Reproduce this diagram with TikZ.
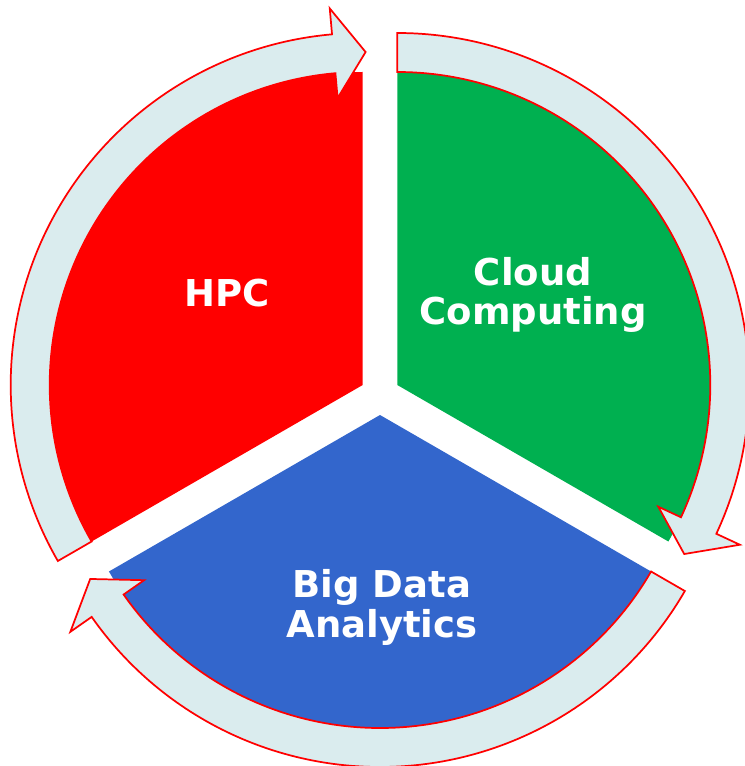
\documentclass[tikz,border=0pt]{standalone}
\usepackage{fontspec}
\setsansfont{DejaVu Sans}
\definecolor{hpcred}{RGB}{255,0,0}
\definecolor{cloudgreen}{RGB}{0,176,80}
\definecolor{datablue}{RGB}{51,102,204}
\definecolor{ringfill}{RGB}{218,236,238}
\tikzset{
  cyclearrow/.style={draw=red, fill=ringfill, line width=1.3pt, line join=miter},
  segtext/.style={text=white, font=\sffamily\bfseries\fontsize{27.75}{29.6}\selectfont, align=center, inner sep=0pt}
}

\begin{document}
\begin{tikzpicture}[x=0.75pt,y=0.75pt,yscale=-1,xscale=1]
\useasboundingbox (0,0) rectangle (744,766); %set diagram to 744 x 766

%Shape: Sector [id:hpc]
\fill [hpcred, shift={(362.7,385)}] (0,0) -- (150:313) arc [start angle=150, end angle=270, radius=313] -- cycle ;
%Shape: Sector [id:cloud]
\fill [cloudgreen, shift={(397.3,385)}] (0,0) -- (270:313) arc [start angle=270, end angle=390, radius=313] -- cycle ;
%Shape: Sector [id:bigdata]
\fill [datablue, shift={(380,415)}] (0,0) -- (30:313) arc [start angle=30, end angle=150, radius=313] -- cycle ;

%Shape: Circular Arrow [id:hpc to cloud]
\draw [cyclearrow, shift={(362.7,385)}] (150:313) arc [start angle=150, end angle=265, radius=313] -- (265:288) -- (270.5:333) -- (265:378) -- (265:352) arc [start angle=265, end angle=150, radius=352] -- cycle ;
%Shape: Circular Arrow [id:cloud to bigdata]
\draw [cyclearrow, shift={(397.3,385)}] (270:313) arc [start angle=270, end angle=385, radius=313] -- (385:288) -- (390.5:333) -- (385:378) -- (385:352) arc [start angle=385, end angle=270, radius=352] -- cycle ;
%Shape: Circular Arrow [id:bigdata to hpc]
\draw [cyclearrow, shift={(380,415)}] (30:313) arc [start angle=30, end angle=145, radius=313] -- (145:288) -- (150.5:333) -- (145:378) -- (145:352) arc [start angle=145, end angle=30, radius=352] -- cycle ;

% Text Node
\node [segtext] (hpc) at (227,293.5) {HPC};
% Text Node
\node [segtext] (cloud) at (533,295) {Cloud\\Computing};
% Text Node
\node [segtext] (bigdata) at (382,607.5) {Big Data\\Analytics};

\end{tikzpicture}
\end{document}
